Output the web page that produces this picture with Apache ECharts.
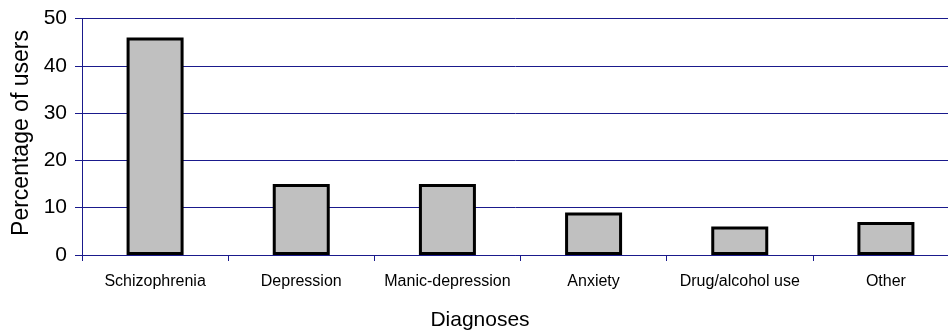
<!DOCTYPE html>
<html>
<head>
<meta charset="utf-8">
<script src="https://cdn.jsdelivr.net/npm/echarts@6/dist/echarts.min.js"></script>
<style>
  html, body { margin: 0; padding: 0; background: #fff; }
  #chart { width: 948px; height: 335px; }
</style>
</head>
<body>
<div id="chart"></div>
<script>
// Diagnoses of service users, as percentage of all users
const diagnoses = ['Schizophrenia', 'Depression', 'Manic-depression', 'Anxiety', 'Drug/alcohol use', 'Other'];
const percentUsers = [46, 15, 15, 9, 6, 7];
const yTicks = [0, 10, 20, 30, 40, 50];

const navy = '#1a1a8c';
const font = 'Liberation Sans, Arial, sans-serif';

const chart = echarts.init(document.getElementById('chart'), null, { renderer: 'canvas' });
chart.setOption({
  animation: false,
  backgroundColor: '#ffffff',
  // the plot runs a little past the right edge of the canvas
  grid: { left: 82, top: 18.5, right: -11, bottom: 80, containLabel: false, outerBoundsMode: 'none' },
  xAxis: {
    type: 'category',
    data: diagnoses,
    boundaryGap: true,
    axisLine: { show: true, lineStyle: { color: navy, width: 1 } },
    axisTick: { show: true, inside: false, length: 6, interval: 0, lineStyle: { color: navy, width: 1 } },
    axisLabel: { color: '#000', fontFamily: font, fontSize: 16, margin: 19, interval: 0 },
    splitLine: { show: false }
  },
  yAxis: {
    type: 'value',
    min: yTicks[0],
    max: yTicks[yTicks.length - 1],
    interval: yTicks[1] - yTicks[0],
    axisLine: { show: true, lineStyle: { color: navy, width: 1 } },
    axisTick: { show: true, inside: false, length: 7, lineStyle: { color: navy, width: 1 } },
    axisLabel: { color: '#000', fontFamily: font, fontSize: 21, margin: 15 },
    splitLine: { show: true, lineStyle: { color: navy, width: 1 } }
  },
  series: [{
    type: 'bar',
    data: percentUsers,
    barWidth: 57,
    itemStyle: { color: '#c0c0c0', borderColor: '#000', borderWidth: 3 }
  }],
  graphic: [
    {
      type: 'text',
      x: 22, y: 133,
      rotation: Math.PI / 2,
      style: {
        text: 'Percentage of users',
        fill: '#000',
        font: '23px ' + font,
        textAlign: 'center',
        textVerticalAlign: 'middle'
      }
    },
    {
      type: 'text',
      x: 480, y: 320,
      style: {
        text: 'Diagnoses',
        fill: '#000',
        font: '21px ' + font,
        textAlign: 'center',
        textVerticalAlign: 'middle'
      }
    }
  ]
});
</script>
</body>
</html>
